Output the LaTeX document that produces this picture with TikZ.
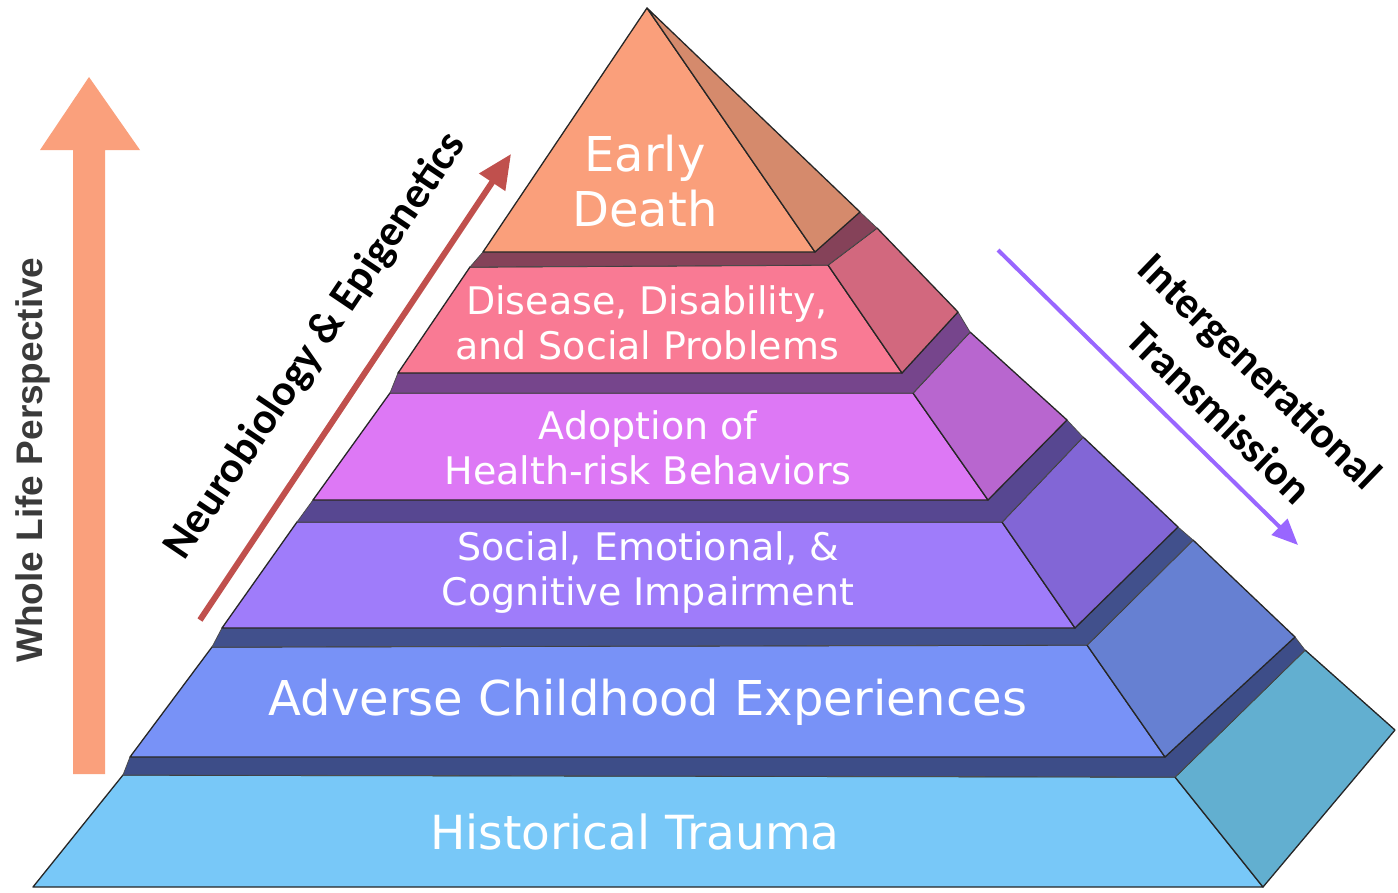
\documentclass[tikz,border=0pt]{standalone}
\usepackage{fontspec}
\setmainfont{DejaVu Sans}
\newfontfamily\lblfont{Carlito}
\newfontfamily\wlfont{Liberation Sans}
\usetikzlibrary{arrows.meta}
\definecolor{fA}{HTML}{FA9F7B}\definecolor{sA}{HTML}{D58A6C}
\definecolor{fB}{HTML}{F97A94}\definecolor{sB}{HTML}{D2687E}\definecolor{lB}{HTML}{854259}
\definecolor{fC}{HTML}{DD78F5}\definecolor{sC}{HTML}{B866CF}\definecolor{lC}{HTML}{76458C}
\definecolor{fD}{HTML}{9F7CFA}\definecolor{sD}{HTML}{8266D6}\definecolor{lD}{HTML}{574791}
\definecolor{fE}{HTML}{7892F7}\definecolor{sE}{HTML}{6680D2}\definecolor{lE}{HTML}{41508C}
\definecolor{fF}{HTML}{78C8F8}\definecolor{sF}{HTML}{62AFD0}\definecolor{lF}{HTML}{3D4D88}
\definecolor{wlorange}{HTML}{FAA07C}
\definecolor{neured}{HTML}{C0504D}
\definecolor{transpurple}{HTML}{9966FF}
\definecolor{wlgray}{HTML}{3A3A3A}
\begin{document}
\begin{tikzpicture}[x=1pt,y=-1pt,
  face/.style={draw=black!85,line width=1.3pt,line join=round},
  ledgeface/.style={draw=black!70,line width=0.8pt,line join=round},
  tiertext/.style={text=white,align=center,inner sep=0pt},
  bigtext/.style={tiertext,font=\fontsize{48}{55}\selectfont},
  midtext/.style={tiertext,font=\fontsize{38}{45}\selectfont},
  sidelabel/.style={align=center,inner sep=0pt,font=\lblfont\bfseries\fontsize{44}{59}\selectfont}]
\useasboundingbox (0,0) rectangle (1398,892);
\fill[white] (0,0) rectangle (1398,892);

% coordinates of tiers (front TL, TR, BR, BL, side top ST, side right SR)
\coordinate (aP) at (647,8);  \coordinate (aBL) at (483,252); \coordinate (aBR) at (815,252); \coordinate (aSR) at (860,212);
\coordinate (bTL) at (470,267); \coordinate (bTR) at (828,265); \coordinate (bBR) at (902,373); \coordinate (bBL) at (398,373); \coordinate (bST) at (877,228); \coordinate (bSR) at (958,312);
\coordinate (cTL) at (390,393); \coordinate (cTR) at (913,393); \coordinate (cBR) at (988,500); \coordinate (cBL) at (313,500); \coordinate (cST) at (970,332); \coordinate (cSR) at (1067,420);
\coordinate (dTL) at (297,522); \coordinate (dTR) at (1002,522); \coordinate (dBR) at (1075,628); \coordinate (dBL) at (222,628); \coordinate (dST) at (1083,437); \coordinate (dSR) at (1178,527);
\coordinate (eTL) at (212,647); \coordinate (eTR) at (1087,645); \coordinate (eBR) at (1165,757); \coordinate (eBL) at (130,757); \coordinate (eST) at (1193,540); \coordinate (eSR) at (1295,637);
\coordinate (fTL) at (123,775); \coordinate (fTR) at (1175,777); \coordinate (fBR) at (1263,887); \coordinate (fBL) at (33,887); \coordinate (fST) at (1305,650); \coordinate (fSR) at (1395,730);

% tier 6
\filldraw[face,fill=fF] (fTL) -- (fTR) -- (fBR) -- (fBL) -- cycle;
\filldraw[face,fill=sF] (fTR) -- (fST) -- (fSR) -- (fBR) -- cycle;
\filldraw[ledgeface,fill=lF] (fTL) -- (fTR) -- (fST) -- (eSR) -- (eBR) -- (eBL) -- cycle;
% tier 5
\filldraw[face,fill=fE] (eTL) -- (eTR) -- (eBR) -- (eBL) -- cycle;
\filldraw[face,fill=sE] (eTR) -- (eST) -- (eSR) -- (eBR) -- cycle;
\filldraw[ledgeface,fill=lE] (eTL) -- (eTR) -- (eST) -- (dSR) -- (dBR) -- (dBL) -- cycle;
% tier 4
\filldraw[face,fill=fD] (dTL) -- (dTR) -- (dBR) -- (dBL) -- cycle;
\filldraw[face,fill=sD] (dTR) -- (dST) -- (dSR) -- (dBR) -- cycle;
\filldraw[ledgeface,fill=lD] (dTL) -- (dTR) -- (dST) -- (cSR) -- (cBR) -- (cBL) -- cycle;
% tier 3
\filldraw[face,fill=fC] (cTL) -- (cTR) -- (cBR) -- (cBL) -- cycle;
\filldraw[face,fill=sC] (cTR) -- (cST) -- (cSR) -- (cBR) -- cycle;
\filldraw[ledgeface,fill=lC] (cTL) -- (cTR) -- (cST) -- (bSR) -- (bBR) -- (bBL) -- cycle;
% tier 2
\filldraw[face,fill=fB] (bTL) -- (bTR) -- (bBR) -- (bBL) -- cycle;
\filldraw[face,fill=sB] (bTR) -- (bST) -- (bSR) -- (bBR) -- cycle;
\filldraw[ledgeface,fill=lB] (bTL) -- (bTR) -- (bST) -- (aSR) -- (aBR) -- (aBL) -- cycle;
% tier 1
\filldraw[face,fill=fA] (aP) -- (aBR) -- (aBL) -- cycle;
\filldraw[face,fill=sA] (aP) -- (aSR) -- (aBR) -- cycle;

% tier texts
\node[bigtext] (t1) at (645,181) {Early\\Death};
\node[midtext] (t2) at (647,323) {Disease, Disability,\\and Social Problems};
\node[midtext] (t3) at (648,448) {Adoption of\\Health-risk Behaviors};
\node[midtext] (t4) at (648,573) {Social, Emotional, \&\\Cognitive Impairment};
\node[bigtext] (t5) at (648,702) {Adverse Childhood Experiences};
\node[tiertext,font=\fontsize{47}{55}\selectfont] (t6) at (635,832) {Historical Trauma};

% whole life arrow
\coordinate (wlBot) at (89,774);
\coordinate (wlTip) at (89,77);
\fill[wlorange] (73,774) -- (73,150) -- (40,150) -- (wlTip) -- (140,150) -- (105,150) -- (105,774) -- cycle;
\node[rotate=90,inner sep=0pt,text=wlgray,font=\wlfont\bfseries\fontsize{37}{40}\selectfont] (wl) at (33,460) {Whole Life Perspective};

% neurobiology arrow
\coordinate (nStart) at (200,620);
\coordinate (nEnd) at (511,154);
\draw[neured,line width=6pt,-{Triangle[length=34pt,width=30pt]}] (nStart) -- (nEnd);
\node[sidelabel,rotate=56] (neuro) at (316,346) {Neurobiology \& Epigenetics};

% intergenerational arrow
\coordinate (iStart) at (998,250);
\coordinate (iEnd) at (1298,545);
\draw[transpurple,line width=4pt,-{Triangle[length=26pt,width=22pt]}] (iStart) -- (iEnd);
\node[sidelabel,rotate=-44] (inter) at (1240,392) {Intergenerational\\Transmission};
\end{tikzpicture}
\end{document}
